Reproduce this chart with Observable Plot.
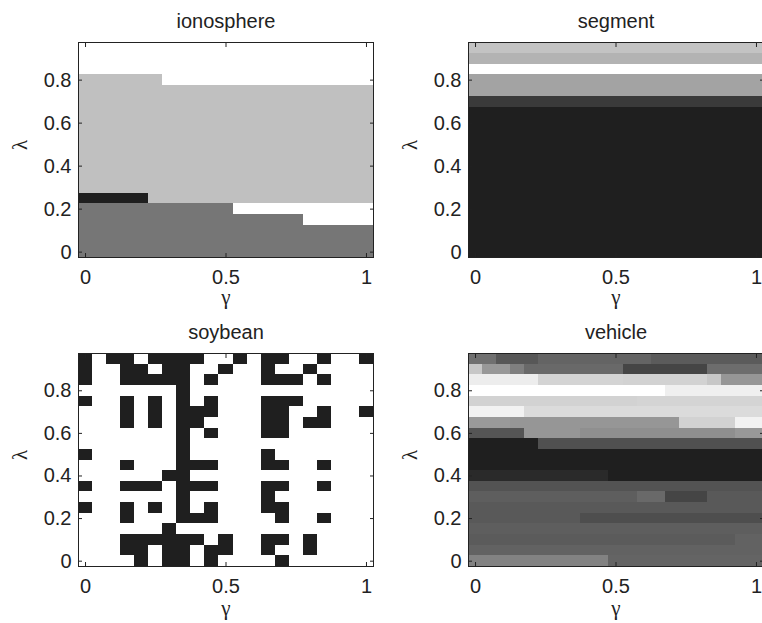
<!DOCTYPE html>
<html>
<head>
<meta charset="utf-8">
<script src="https://cdn.jsdelivr.net/npm/d3@7"></script>
<script src="https://cdn.jsdelivr.net/npm/@observablehq/plot@0.6"></script>
<style>
html, body { margin: 0; padding: 0; background: #fff; overflow: hidden; }
#root { position: relative; width: 762px; height: 623px; overflow: hidden; background: #fff; }
.panel { position: absolute; width: 381px; }
.panel svg { overflow: visible; max-width: none !important; display: block; }
</style>
</head>
<body>
<div id="root"></div>
<script>
// ---- grid coordinates (γ columns, λ rows from top to bottom) ----
const gammaGrid = [0, 0.05, 0.1, 0.15, 0.2, 0.25, 0.3, 0.35, 0.4, 0.45, 0.5,
                   0.55, 0.6, 0.65, 0.7, 0.75, 0.8, 0.85, 0.9, 0.95, 1];
const lambdaGrid = [0.95, 0.9, 0.85, 0.8, 0.75, 0.7, 0.65, 0.6, 0.55, 0.5,
                    0.45, 0.4, 0.35, 0.3, 0.25, 0.2, 0.15, 0.1, 0.05, 0];

// ---- tick values and labels ----
const gammaTicks = [0, 0.5, 1];
const gammaTickLabels = ["0", "0.5", "1"];
const lambdaTicks = [0, 0.2, 0.4, 0.6, 0.8];
const lambdaTickLabels = ["0", "0.2", "0.4", "0.6", "0.8"];

// ---- panel titles ----
const titles = ["ionosphere", "segment", "soybean", "vehicle"];

// ---- values (normalized level 0 = darkest, 1 = lightest), rows top (λ=0.95) to bottom (λ=0)
// run-length rows: [count, value]
const ionosphereRows = [
  [[21, 1]],
  [[21, 1]],
  [[21, 1]],
  [[6, 0.72], [15, 1]],
  [[21, 0.72]],
  [[21, 0.72]],
  [[21, 0.72]],
  [[21, 0.72]],
  [[21, 0.72]],
  [[21, 0.72]],
  [[21, 0.72]],
  [[21, 0.72]],
  [[21, 0.72]],
  [[21, 0.72]],
  [[5, 0], [16, 0.72]],
  [[11, 0.39], [10, 1]],
  [[16, 0.39], [5, 1]],
  [[21, 0.39]],
  [[21, 0.39]],
  [[21, 0.39]]
];

const segmentRows = [
  [[21, 0.73]],
  [[21, 0.66]],
  [[21, 1]],
  [[21, 0.59]],
  [[21, 0.59]],
  [[21, 0.12]],
  [[21, 0]], [[21, 0]], [[21, 0]], [[21, 0]], [[21, 0]], [[21, 0]], [[21, 0]],
  [[21, 0]], [[21, 0]], [[21, 0]], [[21, 0]], [[21, 0]], [[21, 0]], [[21, 0]]
];

// soybean: 1 = dark cell, 0 = white cell
const soybeanRows = [
  "101101111001011001001",
  "100110110010010010000",
  "100111110100011101000",
  "000000010000000000000",
  "100101010100011100000",
  "000101011100011001001",
  "000101011000011011000",
  "000000010100011000000",
  "000000010000000000000",
  "100000010000010000000",
  "000100011100011001000",
  "000000110000000000000",
  "100111011100011001000",
  "000000010000010000000",
  "100101010100011000000",
  "000100011100001001000",
  "000000100000000000000",
  "000111111010011010000",
  "000110110110010010000",
  "000010110100001000000"
];

const vehicleRows = [
  [[2, 0.36], [3, 0.25], [8, 0.31], [8, 0.27]],
  [[1, 0.75], [2, 0.54], [1, 0.43], [7, 0.33], [6, 0.17], [4, 0.35]],
  [[5, 0.92], [6, 0.81], [6, 0.80], [1, 0.75], [3, 0.53]],
  [[14, 1], [7, 0.93]],
  [[12, 0.80], [9, 0.81]],
  [[4, 0.94], [17, 0.84]],
  [[3, 0.55], [12, 0.53], [4, 0.80], [2, 0.94]],
  [[4, 0.24], [4, 0.53], [11, 0.50], [2, 0.54]],
  [[5, 0], [16, 0.22]],
  [[21, 0]],
  [[21, 0]],
  [[10, 0.05], [11, 0]],
  [[21, 0.23]],
  [[12, 0.28], [2, 0.33], [3, 0.17], [4, 0.26]],
  [[21, 0.26]],
  [[8, 0.26], [13, 0.21]],
  [[21, 0.28]],
  [[19, 0.27], [2, 0.30]],
  [[21, 0.30]],
  [[10, 0.44], [11, 0.31]]
];

// ---- build cell tables ----
function fromRuns(rows) {
  const cells = [];
  rows.forEach((runs, i) => {
    let j = 0;
    for (const [n, v] of runs) {
      for (let k = 0; k < n; k++, j++) cells.push({g: gammaGrid[j], l: lambdaGrid[i], v});
    }
  });
  return cells;
}
function fromBits(rows) {
  const cells = [];
  rows.forEach((s, i) => {
    [...s].forEach((c, j) => cells.push({g: gammaGrid[j], l: lambdaGrid[i], v: c === "1" ? 0 : 1}));
  });
  return cells;
}

const half = 0.025;
const ink = "#222";
const sans = "'Liberation Sans', Arial, Helvetica, sans-serif";
const serif = "'Liberation Serif', 'DejaVu Serif', 'Times New Roman', serif";

function panel(title, cells, left, top, h, mb, gammaDy) {
  const chart = Plot.plot({
    width: 381,
    height: h,
    marginLeft: 78,
    marginRight: 8,
    marginTop: 42,
    marginBottom: mb,
    style: {fontFamily: sans, fontSize: "20px", color: ink, background: "transparent", overflow: "visible"},
    x: {domain: [-half, 1 + half], axis: null},
    y: {domain: [-half, 0.95 + half], axis: null},
    color: {type: "linear", domain: [0, 1], range: ["#1f1f1f", "#ffffff"], interpolate: "rgb"},
    marks: [
      Plot.rect(cells, {
        x1: d => d.g - half, x2: d => d.g + half,
        y1: d => d.l - half, y2: d => d.l + half,
        fill: "v", shapeRendering: "crispEdges"
      }),
      // inward tick marks on all four sides
      Plot.axisX(gammaTicks, {anchor: "bottom", tickSize: -4, fill: "none", label: null, stroke: ink}),
      Plot.axisX(gammaTicks, {anchor: "top", tickSize: -4, fill: "none", label: null, stroke: ink}),
      Plot.axisY(lambdaTicks, {anchor: "left", tickSize: -4, fill: "none", label: null, stroke: ink}),
      Plot.axisY(lambdaTicks, {anchor: "right", tickSize: -4, fill: "none", label: null, stroke: ink}),
      // tick labels
      Plot.axisX(gammaTicks, {anchor: "bottom", tickSize: 0, tickPadding: 12, label: null,
        tickFormat: (d, i) => gammaTickLabels[i], fontSize: 20, fill: ink}),
      Plot.axisY(lambdaTicks, {anchor: "left", tickSize: 0, tickPadding: 7, label: null,
        tickFormat: (d, i) => lambdaTickLabels[i], fontSize: 20, fill: ink}),
      Plot.frame({stroke: ink, strokeWidth: 1}),
      // title and axis labels
      Plot.text([title], {text: d => d, frameAnchor: "top", lineAnchor: "middle", dy: -21, fontSize: 20, fill: ink}),
      Plot.text(["γ"], {text: d => d, frameAnchor: "bottom", lineAnchor: "middle", dy: gammaDy, fontSize: 21, fontFamily: serif, fill: ink}),
      Plot.text(["λ"], {text: d => d, frameAnchor: "left", lineAnchor: "middle", dx: -58, rotate: -90, fontSize: 21, fontFamily: serif, fill: ink})
    ]
  });
  const div = document.createElement("div");
  div.className = "panel";
  div.style.left = left + "px";
  div.style.top = top + "px";
  div.appendChild(chart);
  document.getElementById("root").appendChild(div);
}

panel(titles[0], fromRuns(ionosphereRows), 0, 0, 311, 54, 40);
panel(titles[1], fromRuns(segmentRows), 390, 0, 311, 54, 40);
panel(titles[2], fromBits(soybeanRows), 0, 311, 312, 57, 42);
panel(titles[3], fromRuns(vehicleRows), 390, 311, 312, 57, 42);
</script>
</body>
</html>
